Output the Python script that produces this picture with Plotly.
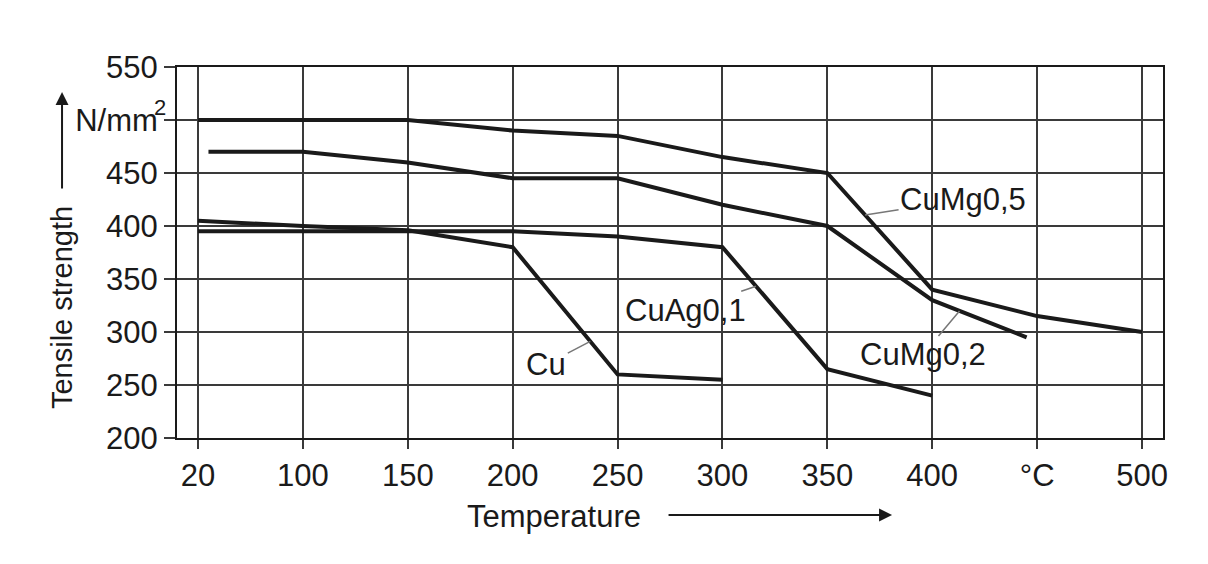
# plot.py
# Tensile strength of copper alloys vs. temperature (textbook-style line chart).
# The x axis is broken in its first cell: 20 °C sits one grid step left of 100.

import plotly.graph_objects as go

# ---- Data ----
cu_temp = [20, 100, 150, 200, 250, 300]
cu_strength = [405, 400, 396, 380, 260, 255]

cuag_temp = [20, 100, 150, 200, 250, 300, 350, 400]
cuag_strength = [395, 395, 395, 395, 390, 380, 265, 240]

cumg02_temp = [28, 100, 150, 200, 250, 300, 350, 400, 445]
cumg02_strength = [470, 470, 460, 445, 445, 420, 400, 330, 295]

cumg05_temp = [20, 100, 150, 200, 250, 300, 350, 400, 450, 500]
cumg05_strength = [500, 500, 500, 490, 485, 465, 450, 340, 315, 300]

x_tick_temps = [20, 100, 150, 200, 250, 300, 350, 400, 450, 500]
x_tick_text = ["20", "100", "150", "200", "250", "300", "350", "400", "°C", "500"]
y_tick_vals = [200, 250, 300, 350, 400, 450, 500, 550]
y_tick_text = ["200", "250", "300", "350", "400", "450", "N/mm", "550"]

# ---- Style constants ----
INK = "#1a1a1a"
GRID = "#3a3a3a"
LEADER = "#777777"
FONT = "Liberation Sans, Arial, sans-serif"
TEXT_SIZE = 31


def to_axis(t):
    """Map a temperature onto the axis; 20..100 °C is squeezed into one 50-step cell."""
    if t < 100:
        return 50 + (t - 20) * 50 / 80
    return t


def interp(temps, vals, t):
    for i in range(len(temps) - 1):
        if temps[i] <= t <= temps[i + 1]:
            f = (t - temps[i]) / (temps[i + 1] - temps[i])
            return vals[i] + f * (vals[i + 1] - vals[i])
    return vals[-1]


fig = go.Figure()

for temps, vals in [
    (cu_temp, cu_strength),
    (cuag_temp, cuag_strength),
    (cumg02_temp, cumg02_strength),
    (cumg05_temp, cumg05_strength),
]:
    fig.add_trace(go.Scatter(
        x=[to_axis(t) for t in temps],
        y=vals,
        mode="lines",
        line=dict(color=INK, width=4),
        showlegend=False,
        hoverinfo="skip",
    ))

# Curve labels with thin leader lines (label offset in pixels from the curve point)
labels = [
    ("Cu", cu_temp, cu_strength, 237, -44, 23),
    ("CuAg0,1", cuag_temp, cuag_strength, 316, -71, 24),
    ("CuMg0,2", cumg02_temp, cumg02_strength, 413, -37, 44),
    ("CuMg0,5", cumg05_temp, cumg05_strength, 368, 98, -15),
]
for text, temps, vals, t, ax, ay in labels:
    fig.add_annotation(
        x=to_axis(t), y=interp(temps, vals, t),
        text=text, showarrow=True, arrowhead=0, arrowwidth=1.5,
        arrowcolor=LEADER, ax=ax, ay=ay, standoff=0,
        font=dict(size=TEXT_SIZE, color=INK, family=FONT),
    )

# Superscript of the unit label, tucked over the end of "N/mm" like the original
fig.add_annotation(
    xref="paper", yref="paper", x=-0.0172, y=0.8895,
    xanchor="center", yanchor="middle",
    text="2", showarrow=False,
    font=dict(size=22, color=INK, family=FONT),
)

# Axis titles with their arrows
fig.add_annotation(
    xref="paper", yref="paper", x=-0.1166, y=0.3504,
    xanchor="center", yanchor="middle",
    text="Tensile strength", textangle=-90, showarrow=False,
    font=dict(size=29, color=INK, family=FONT),
)
fig.add_annotation(
    xref="paper", yref="paper", x=-0.1166, y=0.9326,
    text="", showarrow=True, arrowhead=2, arrowsize=1.3, arrowwidth=2,
    arrowcolor=INK, ax=0, ay=98,
)
fig.add_annotation(
    xref="paper", yref="paper", x=0.3824, y=-0.2129,
    xanchor="center", yanchor="middle",
    text="Temperature", showarrow=False,
    font=dict(size=TEXT_SIZE, color=INK, family=FONT),
)
fig.add_annotation(
    xref="paper", yref="paper", x=0.7252, y=-0.2075,
    text="", showarrow=True, arrowhead=2, arrowsize=1.3, arrowwidth=2,
    arrowcolor=INK, ax=-225, ay=0,
)

# The page body has an 8px margin, so the figure is shifted and sized to fit
fig.update_layout(
    width=1200,
    height=556,
    paper_bgcolor="white",
    plot_bgcolor="white",
    font=dict(family=FONT, color=INK, size=TEXT_SIZE),
    margin=dict(l=169, r=45, t=59, b=126),
    xaxis=dict(
        range=[40, 510],
        tickvals=[to_axis(t) for t in x_tick_temps],
        ticktext=x_tick_text,
        showgrid=True, gridcolor=GRID, gridwidth=2,
        showline=True, linecolor=INK, linewidth=2, mirror=True,
        ticks="outside", ticklen=9, tickwidth=2, tickcolor=GRID,
        zeroline=False,
        tickfont=dict(size=TEXT_SIZE, color=INK),
    ),
    yaxis=dict(
        range=[200, 550],
        tickvals=y_tick_vals,
        ticktext=y_tick_text,
        showgrid=True, gridcolor=GRID, gridwidth=2,
        showline=True, linecolor=INK, linewidth=2, mirror=True,
        ticks="outside", ticklen=11, tickwidth=2, tickcolor=GRID,
        zeroline=False,
        tickfont=dict(size=TEXT_SIZE, color=INK),
    ),
)

fig.write_html("out.html")
